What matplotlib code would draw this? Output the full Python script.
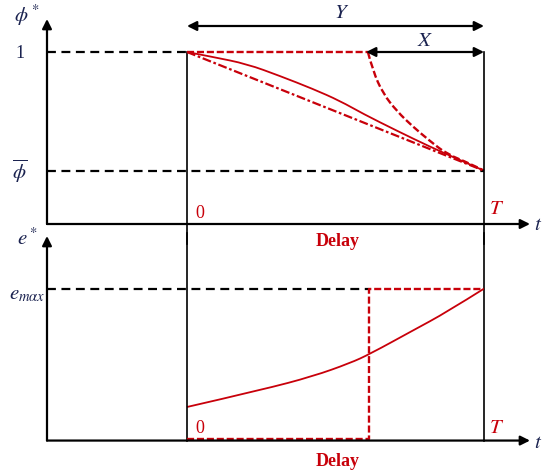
import matplotlib.pyplot as plt
from matplotlib.path import Path
from matplotlib.patches import PathPatch

plt.rcParams['mathtext.fontset'] = 'stix'
plt.rcParams['font.family'] = 'Liberation Serif'

RED = '#c8000a'
NAVY = '#1b2350'

# normalised time: 0 at t=0, 1 at T
delay_s = 0.613
phi_bar = 0.31
e_max = 1.0

# top panel: phi* curves (drop is fraction of 1 - phi_bar)
s_solid_top = [0, 0.0875, 0.202, 0.313, 0.424, 0.515, 0.593, 0.707, 0.818, 0.909, 1.0]
drop_solid_top = [0, 0.042, 0.101, 0.202, 0.311, 0.412, 0.521, 0.664, 0.798, 0.899, 1.0]
s_dash_top = [0.609, 0.626, 0.660, 0.707, 0.761, 0.818, 0.875, 0.953, 1.0]
drop_dash_top = [0, 0.16, 0.35, 0.50, 0.63, 0.75, 0.86, 0.94, 1.0]
s_line_top = [0, 1]
drop_line_top = [0, 1]

# bottom panel: e* curves
s_solid_bot = [0, 0.256, 0.424, 0.549, 0.616, 0.761, 0.875, 1.0]
e_solid_bot = [0.221, 0.336, 0.423, 0.510, 0.570, 0.725, 0.846, 1.0]
s_dash_bot = [0, delay_s, delay_s, 1.0]
e_dash_bot = [0.013, 0.013, 1.0, 1.0]


def to_phi(d):
    return [1 - v * (1 - phi_bar) for v in d]


def smooth(ax, xs, ys, **kw):
    # quadratic bezier through midpoints, so the curve has no kinks
    pts = list(zip(xs, ys))
    verts = [pts[0]]
    codes = [Path.MOVETO]
    for i in range(1, len(pts) - 2):
        mid = ((pts[i][0] + pts[i + 1][0]) / 2, (pts[i][1] + pts[i + 1][1]) / 2)
        verts += [pts[i], mid]
        codes += [Path.CURVE3, Path.CURVE3]
    verts += [pts[-2], pts[-1]]
    codes += [Path.CURVE3, Path.CURVE3]
    ax.add_patch(PathPatch(Path(verts, codes), fill=False, capstyle='butt', **kw))


fig = plt.figure(figsize=(5.44, 4.77), dpi=100)
xl = (-187 / 297, 357 / 297)
ax1 = fig.add_axes([0, (477 - 240) / 477, 1, 240 / 477])
ax1.set_xlim(*xl)
ax1.set_ylim((225 - 240) / 172, 225 / 172)
ax2 = fig.add_axes([0, 0, 1, 240 / 477])
ax2.set_xlim(*xl)
ax2.set_ylim((442 - 477) / 150, (442 - 240) / 150)
for ax in (ax1, ax2):
    ax.axis('off')
    ax.patch.set_alpha(0)

x_axis = -140 / 297  # where the y axes stand


def arrow(ax, p0, p1, style='-|>'):
    ax.annotate('', xy=p1, xytext=p0,
                arrowprops=dict(arrowstyle=style, lw=1.6, color='k',
                                mutation_scale=14, shrinkA=0, shrinkB=0),
                annotation_clip=False)


# ---- top panel
arrow(ax1, (x_axis, 0), (x_axis, 205 / 172))
arrow(ax1, (x_axis, 0), (343 / 297, 0))
ax1.plot([x_axis, 0], [1, 1], 'k', lw=1.6, dashes=(4, 2.5))
ax1.plot([x_axis, 1], [phi_bar, phi_bar], 'k', lw=1.6, dashes=(4, 2.5))
ax1.plot([0, 0], [1, (225 - 245) / 172], 'k', lw=1.2, clip_on=False)
ax1.plot([1, 1], [1, (225 - 245) / 172], 'k', lw=1.2, clip_on=False)
arrow(ax1, (0, 198 / 172), (1, 198 / 172), '<|-|>')
arrow(ax1, (delay_s - 0.01, 1), (1, 1), '<|-|>')

ax1.plot(s_line_top, to_phi(drop_line_top), color=RED, lw=1.6, dashes=(4, 1.2, 1.2, 1.2))
smooth(ax1, s_solid_top, to_phi(drop_solid_top), color=RED, lw=1.3)
ax1.plot([0, s_dash_top[0]], [1, 1], color=RED, lw=1.7, dashes=(3, 1.2))
smooth(ax1, s_dash_top, to_phi(drop_dash_top), color=RED, lw=1.7, linestyle=(0, (3, 1.2)))

ax1.text(-167 / 297, 1, '1', fontsize=13, ha='center', va='center', color=NAVY)
ax1.text(-167 / 297, phi_bar, r'$\overline{\phi}$', fontsize=15, ha='center', va='center', color=NAVY)
ax1.text(-160 / 297, 210 / 172, r'$\phi^*$', fontsize=15, ha='center', va='center', color=NAVY)
ax1.text(155 / 297, 211 / 172, r'$Y$', fontsize=15, ha='center', va='center', color=NAVY)
ax1.text(238 / 297, 184 / 172, r'$X$', fontsize=15, ha='center', va='center', color=NAVY)
ax1.text(13 / 297, 12 / 172, '0', fontsize=13, ha='center', va='center', color=RED)
ax1.text(310 / 297, 15 / 172, r'$T$', fontsize=15, ha='center', va='center', color=RED)
ax1.text(351 / 297, -1 / 172, r'$t$', fontsize=15, ha='center', va='center', color=NAVY)
ax1.text(151 / 297, -17 / 172, 'Delay', fontsize=13, fontweight='bold',
         ha='center', va='center', color=RED)

# ---- bottom panel
arrow(ax2, (x_axis, 0), (x_axis, 202 / 150))
arrow(ax2, (x_axis, 0), (343 / 297, 0))
ax2.plot([x_axis, delay_s], [e_max, e_max], 'k', lw=1.6, dashes=(4, 2.5))
ax2.plot([0, 0], [0, 205 / 150], 'k', lw=1.2, clip_on=False)
ax2.plot([1, 1], [0, 205 / 150], 'k', lw=1.2, clip_on=False)

smooth(ax2, s_solid_bot, e_solid_bot, color=RED, lw=1.3)
ax2.plot(s_dash_bot, e_dash_bot, color=RED, lw=1.7, dashes=(3, 1.2))

ax2.text(-160 / 297, 200 / 150, r'$e^*$', fontsize=15, ha='center', va='center', color=NAVY)
ax2.text(-160 / 297, e_max - 5 / 150, r'$e_{m\alpha x}$', fontsize=15, ha='center', va='center', color=NAVY)
ax2.text(13 / 297, 13 / 150, '0', fontsize=13, ha='center', va='center', color=RED)
ax2.text(310 / 297, 13 / 150, r'$T$', fontsize=15, ha='center', va='center', color=RED)
ax2.text(351 / 297, -2 / 150, r'$t$', fontsize=15, ha='center', va='center', color=NAVY)
ax2.text(151 / 297, -20 / 150, 'Delay', fontsize=13, fontweight='bold',
         ha='center', va='center', color=RED)

fig.savefig('out.png', dpi=100)
